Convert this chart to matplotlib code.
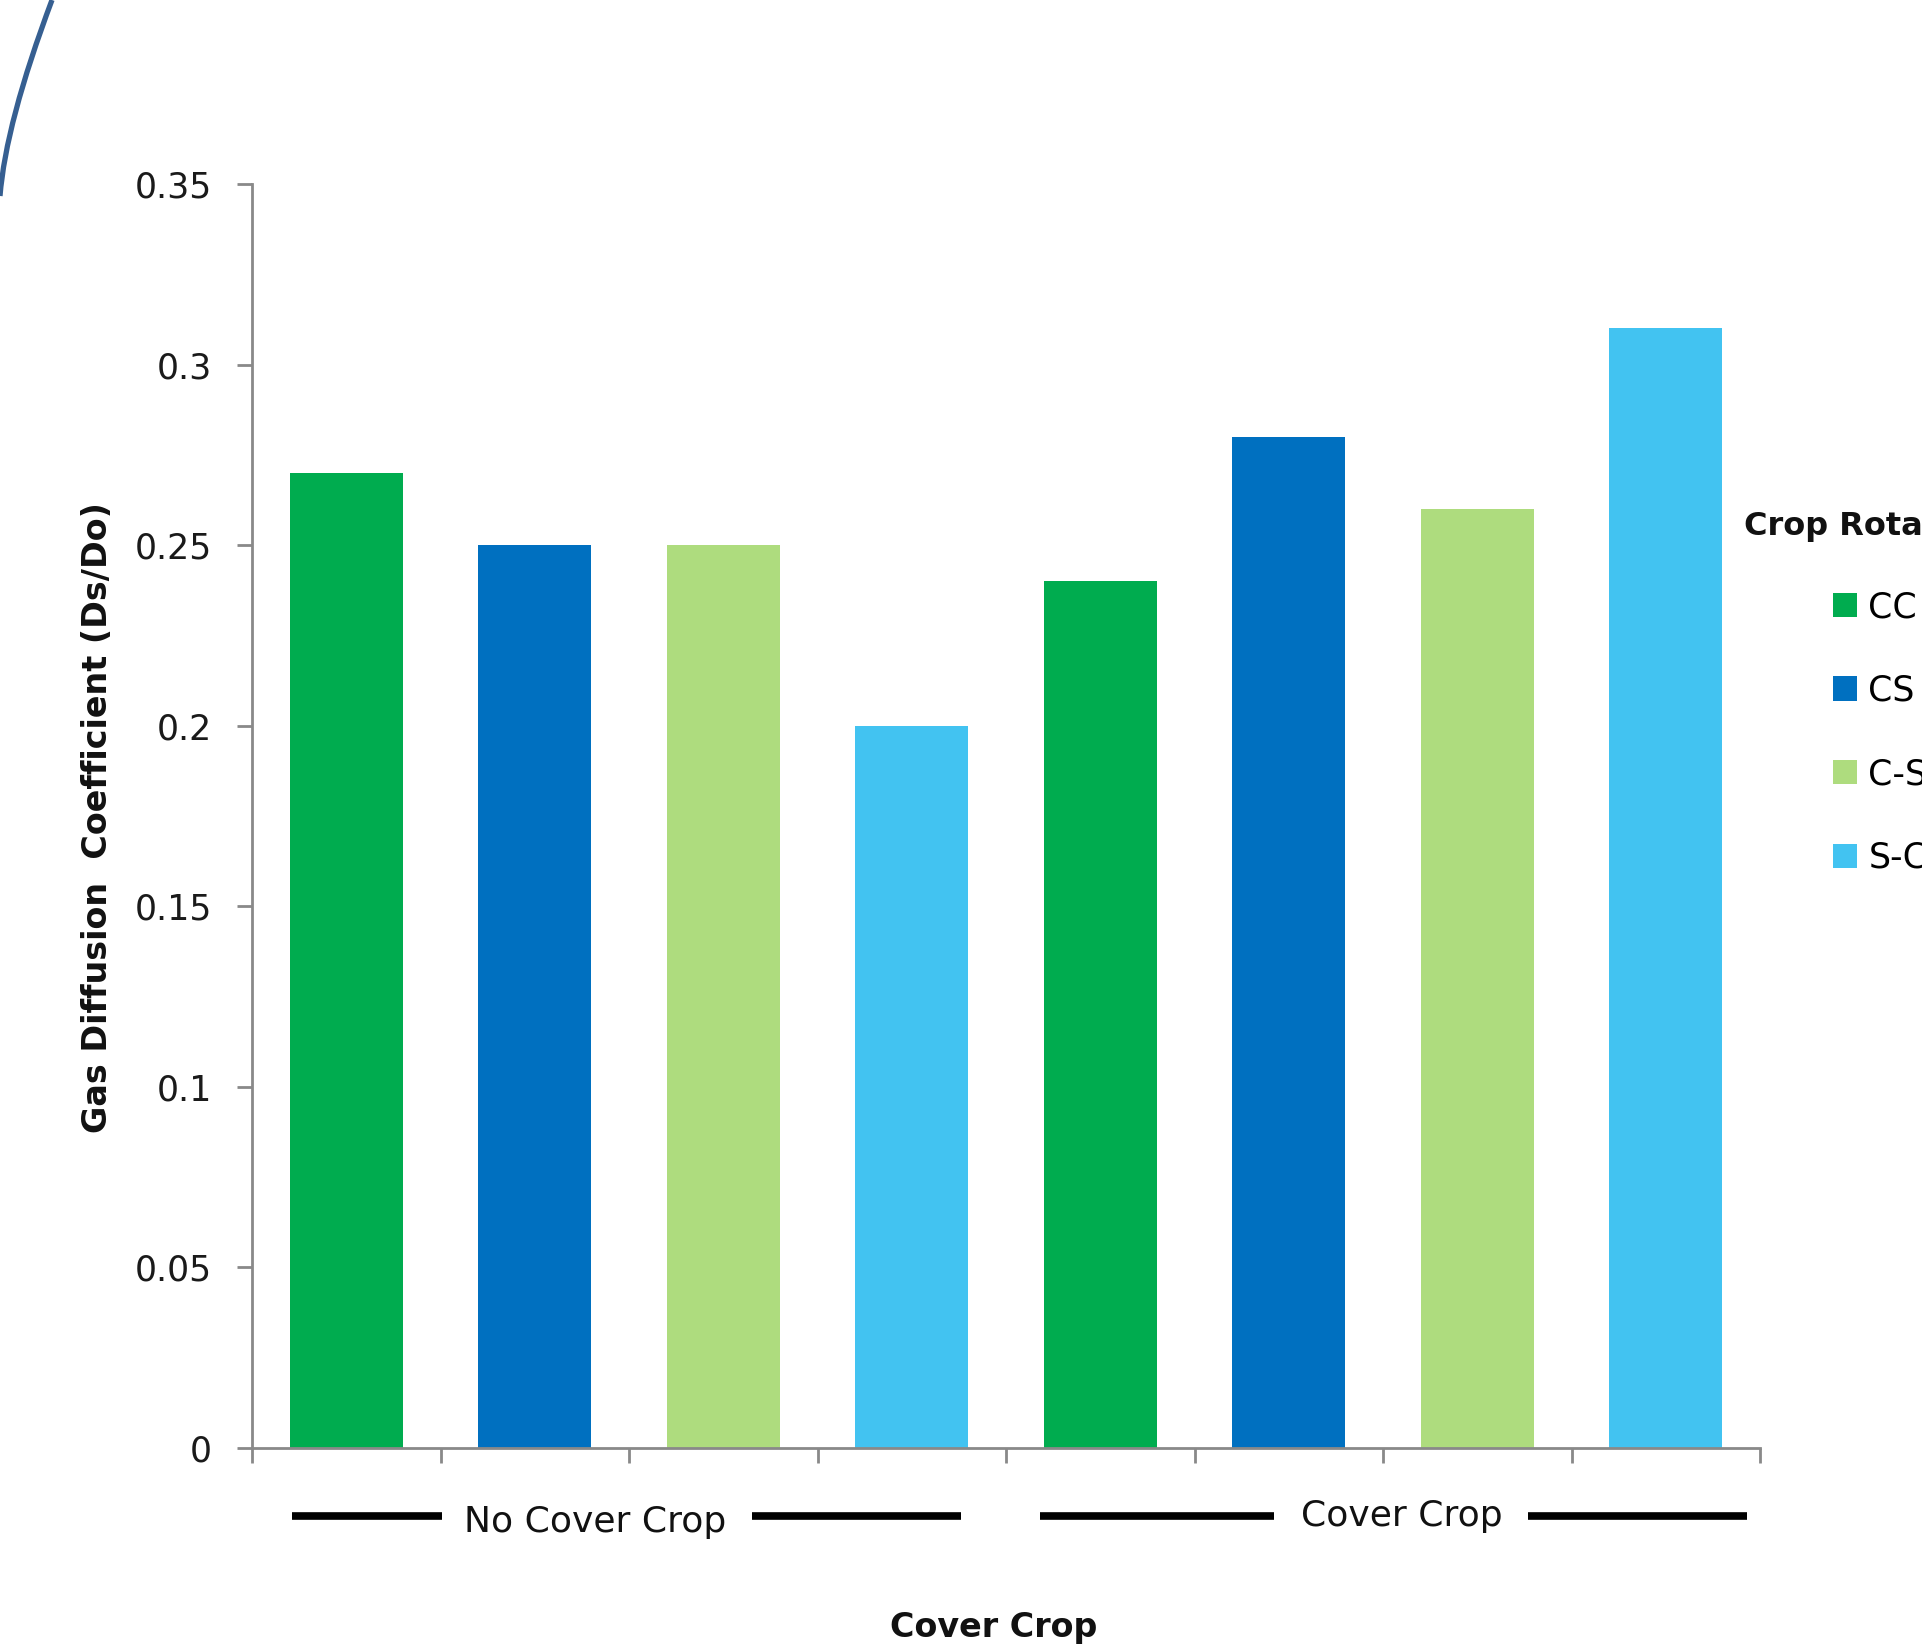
import numpy as np
import matplotlib.pyplot as plt
from matplotlib.path import Path
from matplotlib.patches import PathPatch, Patch

# Gas diffusion coefficient by crop rotation, with and without a cover crop
rotations = ['CC', 'CS', 'C-S', 'S-C']
no_cover_vals = [0.27, 0.25, 0.25, 0.20]
cover_vals = [0.24, 0.28, 0.26, 0.31]
groups = ['No Cover Crop', 'Cover Crop']
colors = ['#00AC4F', '#0070C0', '#AEDC7E', '#42C3F1']

W, H, DPI = 1922, 1647, 100
fig = plt.figure(figsize=(W / DPI, H / DPI), dpi=DPI)
ax = fig.add_axes([252 / W, 1 - 1448 / H, (1760 - 252) / W, (1448 - 184) / H])

values = no_cover_vals + cover_vals
bar_colors = colors * 2
x = np.arange(len(values)) + 0.5
ax.bar(x, values, width=0.6, color=bar_colors, zorder=2)

ax.set_xlim(0, len(values))
ax.set_ylim(0, 0.35)
yt = np.arange(0, 0.351, 0.05)
ax.set_yticks(yt)
ax.set_yticklabels(['0' if v == 0 else f'{v:g}' for v in np.round(yt, 2)])
ax.set_xticks(np.arange(len(values) + 1))
ax.set_xticklabels([])

for side in ['top', 'right']:
    ax.spines[side].set_visible(False)
for side in ['left', 'bottom']:
    ax.spines[side].set_color('#898989')
    ax.spines[side].set_linewidth(2)
ax.tick_params(axis='both', direction='out', length=11, width=2, color='#898989')
ax.tick_params(axis='y', pad=18, labelsize=25, labelcolor='#1a1a1a')

# group brackets under the axis
tr = ax.get_xaxis_transform()
bracket_y = -0.0538
for x0, x1 in [(0.21, 1.01), (2.65, 3.76), (4.18, 5.42), (6.77, 7.93)]:
    ax.plot([x0, x1], [bracket_y, bracket_y], color='black', lw=5.5,
            solid_capstyle='butt', transform=tr, clip_on=False)
ax.text(1.82, -0.0588, groups[0], transform=tr, ha='center', va='center',
        fontsize=26, color='#111111')
ax.text(6.10, -0.054, groups[1], transform=tr, ha='center', va='center',
        fontsize=26, color='#111111')

fig.text(994 / W, 1 - 1627 / H, 'Cover Crop', ha='center', va='center',
         fontsize=24, weight='bold', color='#111111')
fig.text(98 / W, 1 - 818 / H, 'Gas Diffusion  Coefficient (Ds/Do)', rotation=90,
         ha='center', va='center', fontsize=24, weight='bold', color='#111111')

# legend, running off the right edge
fig.text(1744 / W, 1 - 527 / H, 'Crop Rotation', ha='left', va='center',
         fontsize=23, weight='bold', color='#111111')
handles = [Patch(facecolor=c, edgecolor='none') for c in colors]
fig.legend(handles, rotations, loc='upper left',
           bbox_to_anchor=(1833 / W, 1 - 590 / H), frameon=False,
           fontsize=25, handlelength=0.7, handleheight=0.7,
           handletextpad=0.32, labelspacing=1.43, borderpad=0,
           borderaxespad=0)

# decorative arc in the top-left corner
verts = [(52 / W, 1.0), (5.6 / W, 1 - 123.6 / H), (0.0, 1 - 196 / H)]
arc = PathPatch(Path(verts, [Path.MOVETO, Path.CURVE3, Path.CURVE3]),
                transform=fig.transFigure, facecolor='none',
                edgecolor='#365F91', lw=3.8)
fig.patches.append(arc)

fig.savefig('out.png', dpi=DPI)
